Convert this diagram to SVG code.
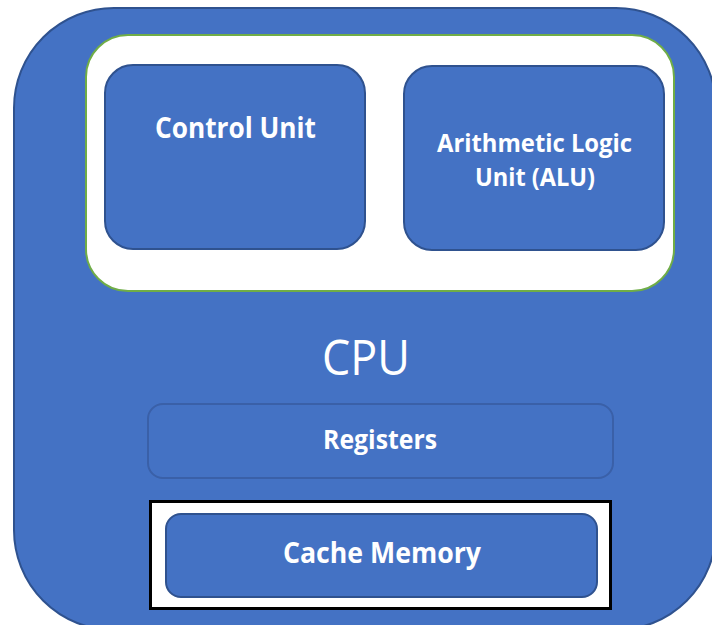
<svg xmlns="http://www.w3.org/2000/svg" width="712" height="625" viewBox="0 0 712 625">
<style>
.blue{fill:#4472C4;stroke:#2F528F;stroke-width:2}
.lbl{font-family:"Open Sans","Liberation Sans",sans-serif;font-weight:700;fill:#FFFFFF;text-anchor:middle}
.cpu{font-family:"Open Sans","Liberation Sans",sans-serif;font-weight:400;fill:#FFFFFF;text-anchor:middle}
</style>
<rect width="712" height="625" fill="#FFFFFF"/>
<g id="cpu">
<rect class="blue" x="14" y="8" width="702" height="622" rx="100" ry="100"/>
<text class="cpu" x="366" y="375" font-size="50" textLength="88" lengthAdjust="spacingAndGlyphs">CPU</text>
</g>
<g id="core">
<rect x="86" y="35" width="588" height="256" rx="42" ry="42" fill="#FFFFFF" stroke="#70AD47" stroke-width="2"/>
</g>
<g id="control-unit">
<rect class="blue" x="105" y="65" width="260" height="184" rx="28" ry="28"/>
<text class="lbl" x="235.5" y="138" font-size="28" textLength="161" lengthAdjust="spacingAndGlyphs">Control Unit</text>
</g>
<g id="alu">
<rect class="blue" x="404" y="66" width="260" height="184" rx="28" ry="28"/>
<text class="lbl" x="534.5" y="152" font-size="25" textLength="195" lengthAdjust="spacingAndGlyphs">Arithmetic Logic</text>
<text class="lbl" x="535" y="186" font-size="25" textLength="120" lengthAdjust="spacingAndGlyphs">Unit (ALU)</text>
</g>
<g id="registers">
<rect x="148" y="404" width="465" height="74" rx="15" ry="15" fill="#4472C4" stroke="#3A60A8" stroke-width="2"/>
<text class="lbl" x="380" y="449" font-size="27" textLength="114" lengthAdjust="spacingAndGlyphs">Registers</text>
</g>
<g id="cache">
<rect x="150.5" y="501.5" width="460" height="107" fill="#FFFFFF" stroke="#000000" stroke-width="3"/>
<rect class="blue" x="166" y="514" width="431" height="83" rx="15" ry="15"/>
<text class="lbl" x="382" y="563" font-size="28" textLength="198" lengthAdjust="spacingAndGlyphs">Cache Memory</text>
</g>
<g id="connectors"></g>
</svg>
